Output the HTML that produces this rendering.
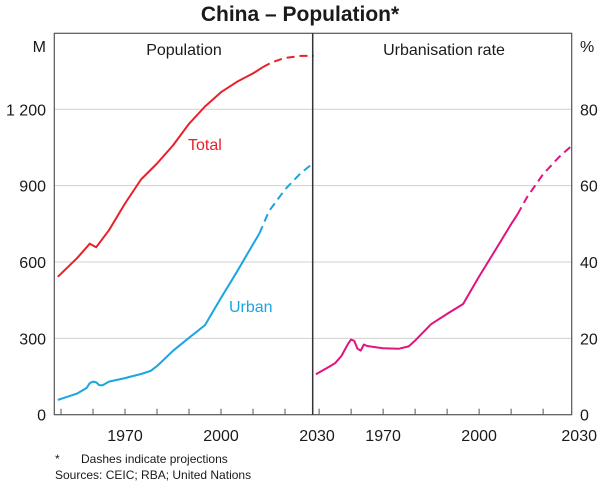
<!DOCTYPE html>
<html><head><meta charset="utf-8"><style>
body{margin:0;background:#fff;}
svg text{font-family:"Liberation Sans",Arial,sans-serif;fill:#1a1a1a;}
</style></head><body>
<svg id="chart" width="600" height="488" viewBox="0 0 600 488" xmlns="http://www.w3.org/2000/svg">
<text x="300" y="21" text-anchor="middle" font-size="21" font-weight="bold">China – Population*</text>
<g id="grid"></g>
<g id="series"></g>
<rect x="54.3" y="33.3" width="517.4" height="381.4" fill="none" stroke="#555" stroke-width="1.2"/>
<line x1="312.7" y1="33.3" x2="312.7" y2="414.7" stroke="#333" stroke-width="1.5"/>
<text x="184" y="55" text-anchor="middle" font-size="16">Population</text>
<text x="444" y="55" text-anchor="middle" font-size="16">Urbanisation rate</text>
<text x="46" y="52" text-anchor="end" font-size="16">M</text>
<text x="580" y="52" font-size="16">%</text>
<text x="188" y="150" font-size="16" style="fill:#e8202a">Total</text>
<text x="229" y="312" font-size="16" style="fill:#1aa5e0">Urban</text>
<text x="55" y="463" font-size="12">*</text>
<text x="81" y="463" font-size="12">Dashes indicate projections</text>
<text x="55" y="479" font-size="12">Sources: CEIC; RBA; United Nations</text>
</svg>
<script>
const leftTicks=[0,300,600,900,1200];
const leftTickLabels=["0","300","600","900","1 200"];
const rightTicks=[0,20,40,60,80];
const yearTicks=[1970,2000,2030];
const totalYears=[1949,1955,1959,1961,1965,1970,1975,1980,1985,1990,1995,2000,2005,2010,2013];
const totalVals=[542,615,672,658,725,830,924,987,1058,1143,1211,1267,1308,1341,1365];
const totalProjYears=[2013,2016,2020,2025,2029];
const totalProjVals=[1365,1385,1402,1410,1410];
const urbanYears=[1949,1955,1958,1959,1960,1961,1962,1963,1965,1970,1975,1978,1980,1985,1990,1995,2000,2005,2010,2012];
const urbanVals=[58,83,105,124,130,127,116,116,130,144,160,172,191,251,302,352,459,562,670,712];
const urbanProjYears=[2012,2015,2020,2025,2029];
const urbanProjVals=[712,800,885,950,990];
const rateYears=[1949,1953,1955,1957,1959,1960,1961,1962,1963,1964,1965,1970,1975,1978,1980,1985,1990,1995,2000,2005,2010,2012];
const rateVals=[10.6,12.5,13.5,15.4,18.5,19.7,19.3,17.3,16.8,18.4,18.0,17.4,17.3,17.9,19.4,23.7,26.4,29.0,36.2,43.0,49.9,52.5];
const rateProjYears=[2012,2015,2020,2025,2029];
const rateProjVals=[52.5,57,63,67.5,70.5];

const NS="http://www.w3.org/2000/svg";
const yBot=414.7;
const yL=v=>yBot-v*(305.4/1200);
const yR=v=>yBot-v*(305.4/80);
const xL=yr=>54.6+(yr-1948)*3.2;
const xR=yr=>312.7+(yr-1948)*3.2;
const grid=document.getElementById('grid');
const ser=document.getElementById('series');
function mk(tag,attrs,parent){const e=document.createElementNS(NS,tag);for(const k in attrs)e.setAttribute(k,attrs[k]);parent.appendChild(e);return e;}

leftTicks.forEach((v,i)=>{
  if(v>0){
    const g=mk('line',{x1:54.3,x2:571.7,y1:yL(v),y2:yL(v),stroke:'#d0d0d0','stroke-width':1},grid);
    
    
  }
  const t=mk('text',{x:46,y:yL(v)+6,'text-anchor':'end','font-size':16},grid);
  t.textContent=leftTickLabels[i];
  
  
});
rightTicks.forEach(v=>{
  const t=mk('text',{x:580,y:yR(v)+6,'font-size':16},grid);
  t.textContent=String(v);
  
  
});
for(let yr=1950;yr<=2020;yr+=10){
  [xL,xR].forEach(f=>{
    const l=mk('line',{x1:f(yr),x2:f(yr),y1:yBot,y2:yBot-6,stroke:'#555','stroke-width':1},grid);
    
    
  });
}
yearTicks.forEach(yr=>{
  [xL,xR].forEach(f=>{
    let x=f(yr),anchor='middle';
    if(x>570){x=597;anchor='end';}
    const t=mk('text',{x:x,y:441,'text-anchor':anchor,'font-size':16},grid);
    t.textContent=String(yr);
    
    
  });
});
function line(xs,vs,fx,fy,color,dash,name){
  const d=xs.map((yr,i)=>(i?'L':'M')+fx(yr).toFixed(1)+','+fy(vs[i]).toFixed(1)).join(' ');
  const p=mk('path',{d:d,fill:'none',stroke:color,'stroke-width':2,'stroke-linejoin':'round'},ser);
  if(dash)p.setAttribute('stroke-dasharray','8,5');
  
  
}
line(totalYears,totalVals,xL,yL,'#e8202a',false,'total-line');
line(totalProjYears,totalProjVals,xL,yL,'#e8202a',true,'total-projection-line');
line(urbanYears,urbanVals,xL,yL,'#1aa5e0',false,'urban-line');
line(urbanProjYears,urbanProjVals,xL,yL,'#1aa5e0',true,'urban-projection-line');
line(rateYears,rateVals,xR,yR,'#e0137f',false,'urbanisation-rate-line');
line(rateProjYears,rateProjVals,xR,yR,'#e0137f',true,'urbanisation-rate-projection-line');
</script>
</body></html>
